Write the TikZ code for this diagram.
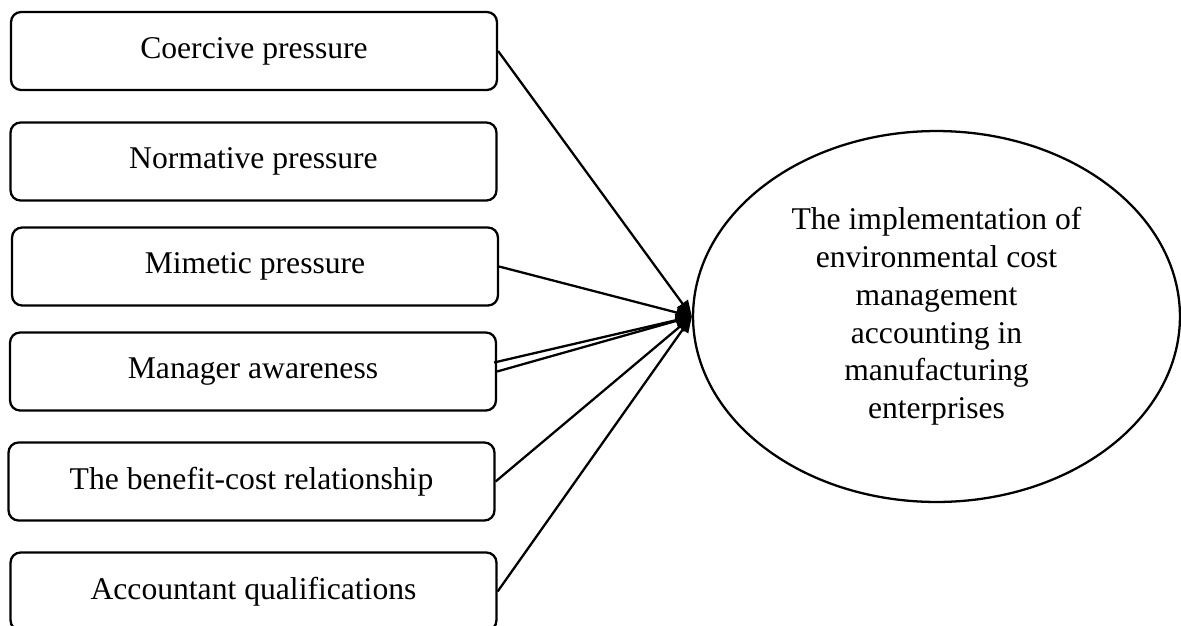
\documentclass[tikz,border=0pt]{standalone}
\usepackage{fontspec}
\setmainfont{Liberation Serif}
\usetikzlibrary{shapes.geometric,arrows.meta}
\begin{document}
\begin{tikzpicture}[x=0.02cm,y=-0.02cm,
  factor/.style={draw,line width=1.3pt,rounded corners=0.2cm,minimum width=9.72cm,minimum height=1.56cm,inner sep=0pt,font=\fontsize{18}{21.5}\selectfont},
  outcome/.style={draw,line width=1.3pt,ellipse,minimum width=9.74cm,minimum height=7.42cm,inner sep=0pt,align=center,font=\fontsize{18}{21.5}\selectfont},
  link/.style={line width=1.3pt,-{Triangle[length=0.32cm,width=0.26cm]}}]
\clip (0,0) rectangle (1181,626);
\node[factor] (b1) at (254,51) {Coercive pressure};
\node[factor] (b2) at (253.5,161.5) {Normative pressure};
\node[factor] (b3) at (255,266.5) {Mimetic pressure};
\node[factor] (b4) at (253,371.5) {Manager awareness};
\node[factor] (b5) at (251.5,481.5) {The benefit-cost relationship};
\node[factor] (b6) at (253.5,591.5) {Accountant qualifications};
\node[outcome] (e) at (936.5,316.5) {The implementation of\\environmental cost\\management\\accounting in\\manufacturing\\enterprises};
\coordinate (b4a) at ([xshift=-0.06cm,yshift=0.18cm]b4.east);
\draw[link] (b1.east) -- (e.west);
\draw[link] (b3.east) -- (e.west);
\draw[link] (b4a) -- (e.west);
\draw[link] (b4.east) -- (e.west);
\draw[link] (b5.east) -- (e.west);
\draw[link] (b6.east) -- (e.west);
\end{tikzpicture}
\end{document}
